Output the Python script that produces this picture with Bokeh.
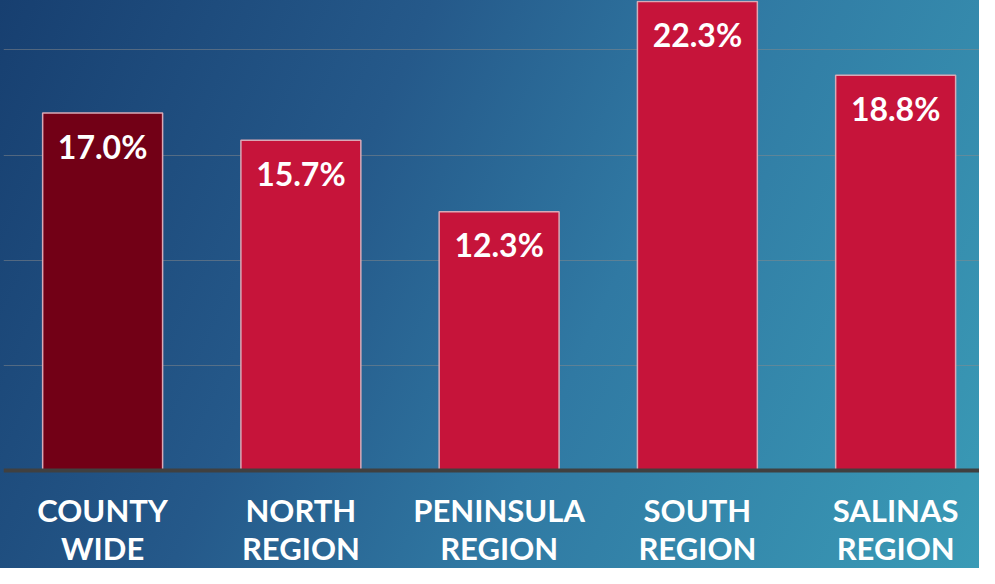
from bokeh.plotting import figure
from bokeh.models import Range1d, FixedTicker, ColumnDataSource, Span
from bokeh.core.properties import value
from bokeh.embed import file_html
from bokeh.resources import INLINE

categories = ["COUNTY\nWIDE", "NORTH\nREGION", "PENINSULA\nREGION", "SOUTH\nREGION", "SALINAS\nREGION"]
values = [17.0, 15.7, 12.3, 22.3, 18.8]
labels = ["17.0%", "15.7%", "12.3%", "22.3%", "18.8%"]
bar_colors = ["#720016", "#C6143A", "#C6143A", "#C6143A", "#C6143A"]
grid_ticks = [5, 10, 15, 20]

xs = [i + 0.5 for i in range(len(categories))]
src = ColumnDataSource(dict(x=xs, top=values, label=labels, color=bar_colors,
                            cat=categories, base=[0] * len(xs)))

p = figure(width=979, height=568, output_backend="svg", toolbar_location=None,
           x_range=Range1d(0, 4.923), y_range=Range1d(-4.66, 22.35),
           min_border_left=3, min_border_right=0, min_border_top=0, min_border_bottom=0)
p.styles = {"background": "linear-gradient(115deg, #173f70 0%, #25598a 35%, #3079a3 60%, #3a9bb6 100%)"}
p.background_fill_color = None
p.border_fill_color = None
p.outline_line_color = None
p.xaxis.visible = False
p.yaxis.visible = False

p.xgrid.grid_line_color = None
p.ygrid.ticker = FixedTicker(ticks=grid_ticks)
p.ygrid.grid_line_color = "#8a8a8a"
p.ygrid.grid_line_alpha = 0.5
p.ygrid.grid_line_width = 1

p.vbar(x="x", top="top", bottom=0, width=0.605, fill_color="color", source=src,
       line_color="#d9a9b6", line_width=1.5)
p.add_layout(Span(location=0, dimension="width", line_color="#404040", line_width=4))

p.text(x="x", y="top", text="label", source=src, text_color="white",
       text_font=value("Lato"), text_font_style="bold", text_font_size="32px",
       text_align="center", text_baseline="middle", y_offset=33)
p.text(x="x", y="base", text="cat", source=src, text_color="white",
       text_font=value("Lato"), text_font_style="bold", text_font_size="31px",
       text_align="center", text_baseline="top", y_offset=20, text_line_height=1.0)

open("out.html", "w").write(file_html(p, INLINE))
